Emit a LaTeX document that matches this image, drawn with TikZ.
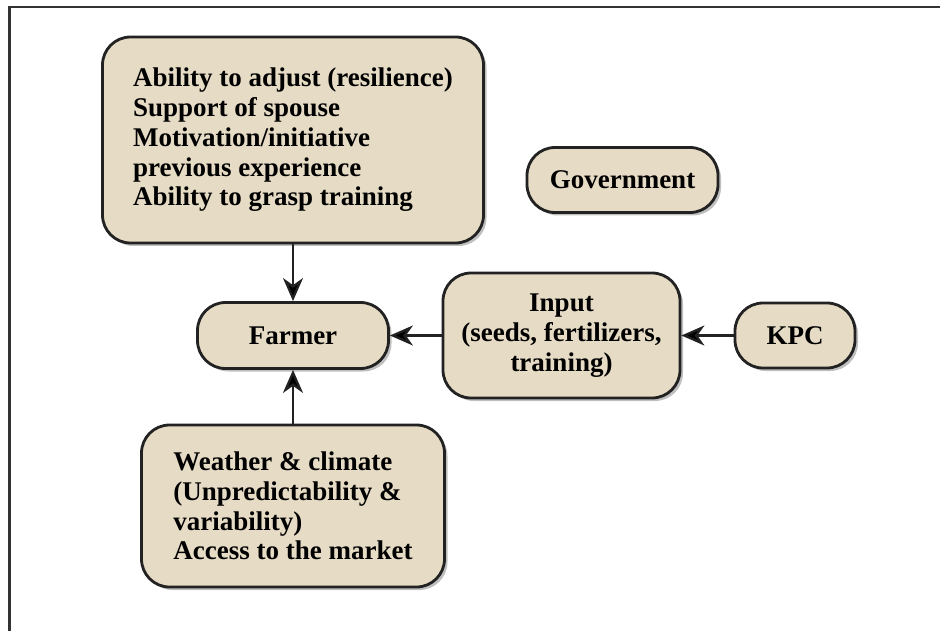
\documentclass[tikz,border=0pt]{standalone}
\usepackage{fontspec}
\setmainfont{Liberation Serif}
\usetikzlibrary{positioning,arrows.meta,shadows}
\definecolor{boxtan}{RGB}{230,219,196}
\definecolor{rimgrey}{RGB}{34,34,34}
\tikzstyle{factor} = [
rectangle,
rounded corners=28pt,
line width=2.8pt,
draw=rimgrey,
fill=boxtan,
drop shadow={shadow xshift=3pt,shadow yshift=-3pt,opacity=0.5},
font=\fontsize{27}{29.8}\selectfont\bfseries
]
\tikzstyle{flow} = [
-{Stealth[length=23pt,width=20pt,inset=7pt]},
line width=2.2pt,
draw=rimgrey
]

\begin{document}
\begin{tikzpicture}[
	x=1pt,
	y=-1pt,
	align=center
	]
	\useasboundingbox (0,0) rectangle (940,631);
	
	% frame
	\draw[line width=2.5pt,draw=black!80] (9.5,631) -- (9.5,7) -- (940,7);
	
	\node[factor,align=left,minimum width=381pt,minimum height=206pt] (ability) at (293,140) {Ability to adjust (resilience)\\Support of spouse\\Motivation/initiative\\previous experience\\Ability to grasp training};
	\node[factor,minimum width=191pt,minimum height=65pt] (gov) at (622.5,180) {Government};
	\node[factor,minimum width=191pt,minimum height=66pt] (farmer) at (293,335.5) {Farmer};
	\node[factor,minimum width=237pt,minimum height=125pt] (input) at (561.5,335.5) {Input\\(seeds, fertilizers,\\training)};
	\node[factor,minimum width=120pt,minimum height=65pt] (kpc) at (795,335.5) {KPC};
	\node[factor,align=left,minimum width=303pt,minimum height=162pt] (weather) at (293,506) {Weather \& climate\\(Unpredictability \&\\variability)\\Access to the market};
	
	\path[flow] (ability) edge (farmer);
	\path[flow] (weather) edge (farmer);
	\path[flow] (input) edge (farmer);
	\path[flow] (kpc) edge (input);
\end{tikzpicture}
\end{document}
